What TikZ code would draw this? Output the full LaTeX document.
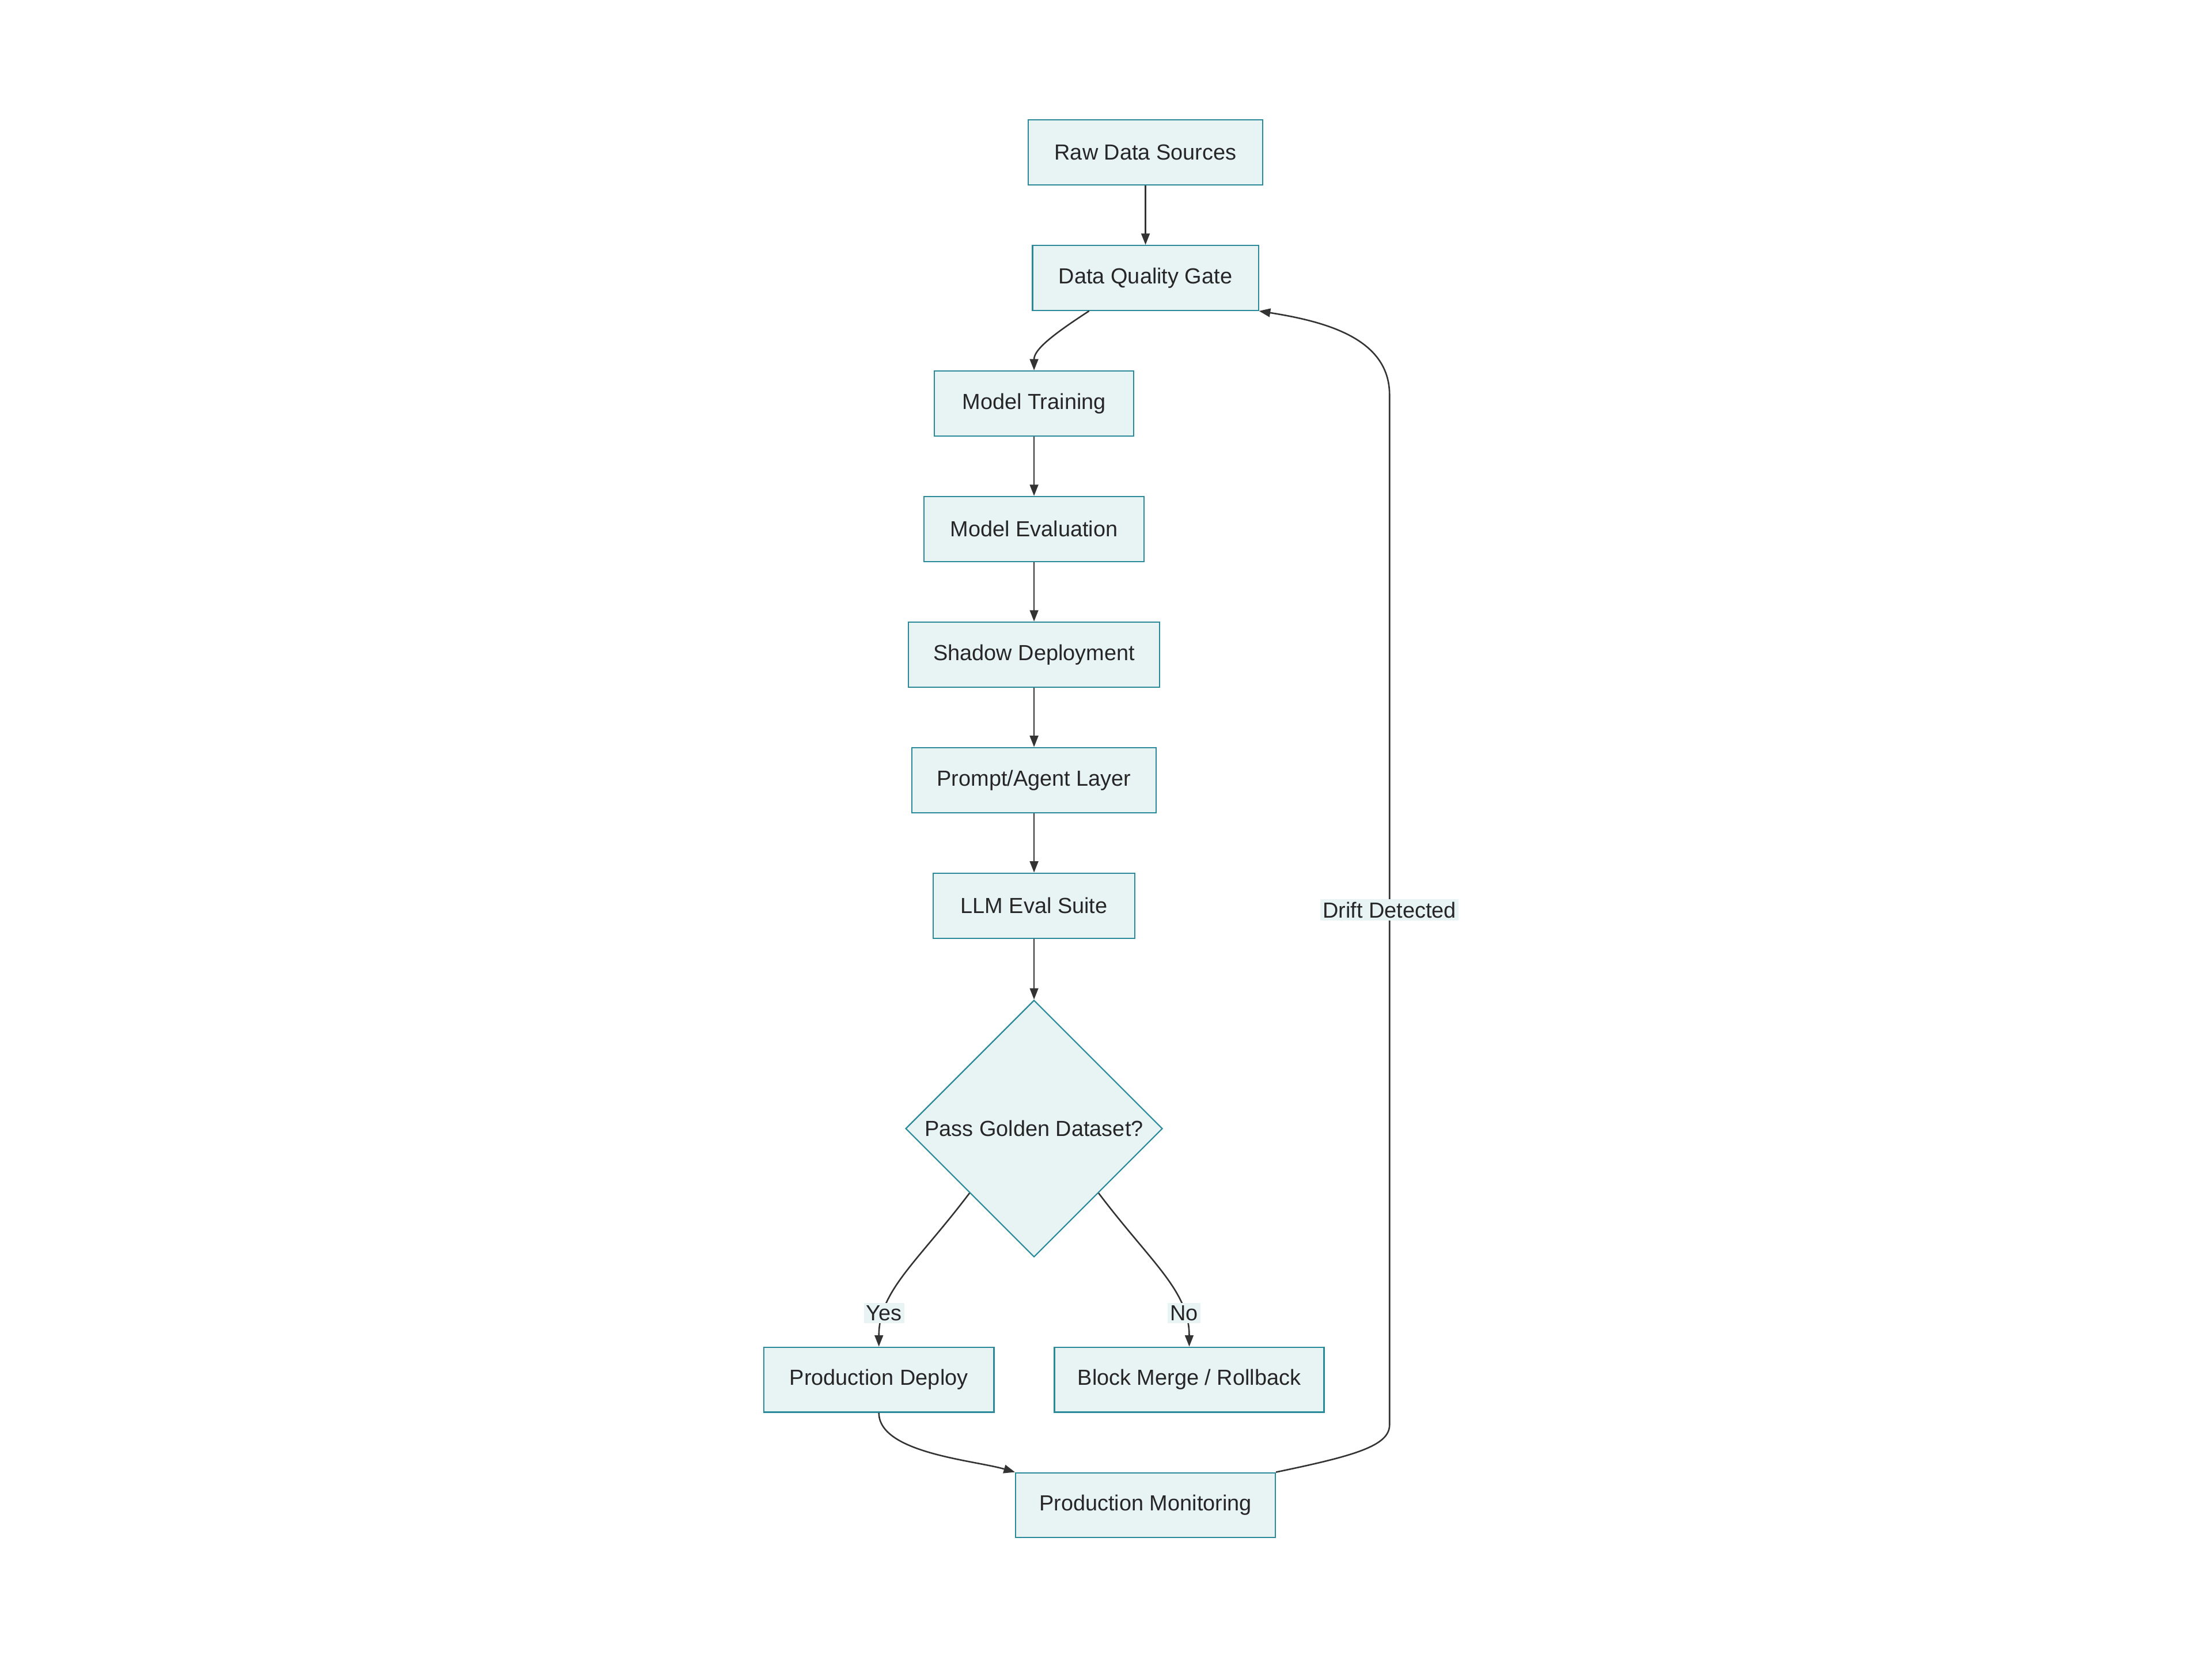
\documentclass[tikz,border=0pt]{standalone}
\usepackage{fontspec}
\setmainfont{Liberation Sans}
\usetikzlibrary{shapes.geometric,arrows.meta}
\definecolor{boxfill}{HTML}{E8F4F4}
\definecolor{boxline}{HTML}{2A8A9A}
\definecolor{edgecol}{HTML}{333333}
\tikzset{
  stage/.style={draw=boxline,fill=boxfill,line width=0.25pt,minimum height=0.46cm,
    inner sep=0pt,font=\fontsize{4.4}{5}\selectfont,text=black!85},
  decide/.style={diamond,draw=boxline,fill=boxfill,line width=0.25pt,minimum size=1.82cm,
    inner sep=0pt,font=\fontsize{4.4}{5}\selectfont,text=black!85},
  flow/.style={draw=edgecol,line width=0.3pt,-{Triangle[length=0.08cm,width=0.06cm]}},
  tag/.style={fill=boxfill,inner sep=0.5pt,font=\fontsize{4.4}{5}\selectfont,text=black!85}
}
\begin{document}
\begin{tikzpicture}[x=0.01cm,y=-0.01cm]
\useasboundingbox (0,0) rectangle (1568,1176);
\node[stage,minimum width=1.66cm] (raw) at (812,108) {Raw Data Sources};
\node[stage,minimum width=1.60cm] (gate) at (812,197) {Data Quality Gate};
\node[stage,minimum width=1.41cm] (train) at (733,286) {Model Training};
\node[stage,minimum width=1.56cm] (eval) at (733,375) {Model Evaluation};
\node[stage,minimum width=1.78cm] (shadow) at (733,464) {Shadow Deployment};
\node[stage,minimum width=1.73cm] (prompt) at (733,553) {Prompt/Agent Layer};
\node[stage,minimum width=1.43cm] (llm) at (733,642) {LLM Eval Suite};
\node[decide] (pass) at (733,800) {Pass Golden Dataset?};
\node[stage,minimum width=1.63cm] (deploy) at (623,978) {Production Deploy};
\node[stage,minimum width=1.91cm] (block) at (843,978) {Block Merge / Rollback};
\node[stage,minimum width=1.84cm] (monitor) at (812,1067) {Production Monitoring};
\coordinate (loopbot) at (985,1010);
\coordinate (looptop) at (985,280);

\draw[flow] (raw) -- (gate);
\draw[flow] (gate.south) ++(-40,0) .. controls (745,238) and (733,248) .. (train.north);
\draw[flow] (train) -- (eval);
\draw[flow] (eval) -- (shadow);
\draw[flow] (shadow) -- (prompt);
\draw[flow] (prompt) -- (llm);
\draw[flow] (llm) -- (pass.north);
\draw[flow] (pass.south west) .. controls (650,895) and (623,915) .. node[tag,pos=0.78] {Yes} (deploy.north);
\draw[flow] (pass.south east) .. controls (816,895) and (843,915) .. node[tag,pos=0.78] {No} (block.north);
\draw[flow] (deploy.south) .. controls (623,1030) and (690,1035) .. (monitor.north west);
\draw[flow] (monitor.north east) .. controls (960,1032) and (985,1025) .. (loopbot)
  -- node[tag] {Drift Detected} (looptop) .. controls (985,240) and (940,228) .. (gate.south east);
\end{tikzpicture}
\end{document}
